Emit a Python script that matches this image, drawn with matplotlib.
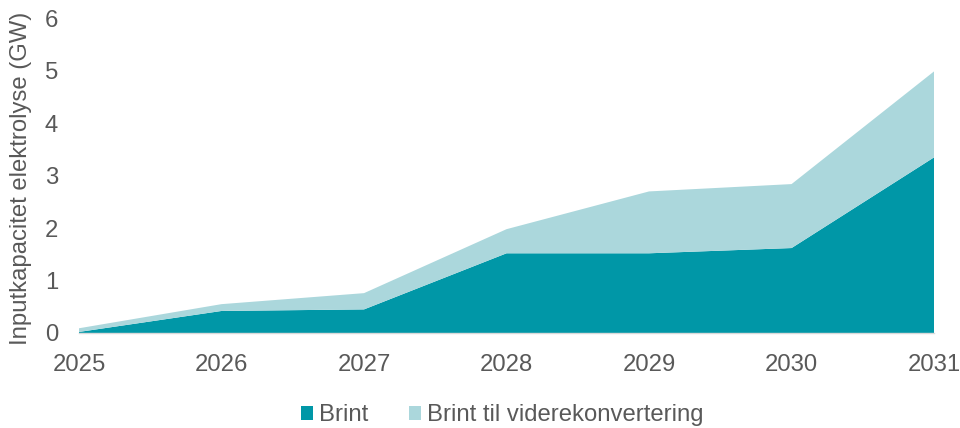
import matplotlib.pyplot as plt
import numpy as np

plt.rcParams['font.family'] = ['Liberation Sans', 'DejaVu Sans']

# data
years = [2025, 2026, 2027, 2028, 2029, 2030, 2031]
brint = [0.02, 0.42, 0.45, 1.52, 1.52, 1.62, 3.35]
brint_videre = [0.07, 0.13, 0.31, 0.46, 1.18, 1.22, 1.64]
labels = ['Brint', 'Brint til viderekonvertering']
colors = ['#0097a7', '#abd7dc']

grey = '#595959'
fs = 17.2

fig = plt.figure(figsize=(9.6, 4.28), dpi=100)
ax = fig.add_axes([0.0823, 0.222, 0.973 - 0.0823, 0.957 - 0.222])

ax.stackplot(years, brint, brint_videre, colors=colors, labels=labels, linewidth=0)

ax.set_xlim(2025, 2031)
ax.set_ylim(0, 6)
ax.set_xticks(years)
ax.set_yticks(np.arange(0, 7, 1))
ax.tick_params(axis='both', length=0, labelsize=fs, labelcolor=grey)
ax.tick_params(axis='y', pad=15)
ax.tick_params(axis='x', pad=15)

for s in ['top', 'right', 'left']:
    ax.spines[s].set_visible(False)
ax.spines['bottom'].set_color('#d9d9d9')
ax.spines['bottom'].set_linewidth(1)

ax.set_ylabel('Inputkapacitet elektrolyse (GW)', fontsize=fs, color=grey)
ax.yaxis.set_label_coords(-0.055, 0.49)

leg = fig.legend(loc='center', bbox_to_anchor=(0.523, 0.03), ncol=2, frameon=False,
                 fontsize=fs, handlelength=0.52, handleheight=0.52, handletextpad=0.25,
                 columnspacing=1.7)
for t in leg.get_texts():
    t.set_color(grey)

fig.savefig('out.png', dpi=100)
